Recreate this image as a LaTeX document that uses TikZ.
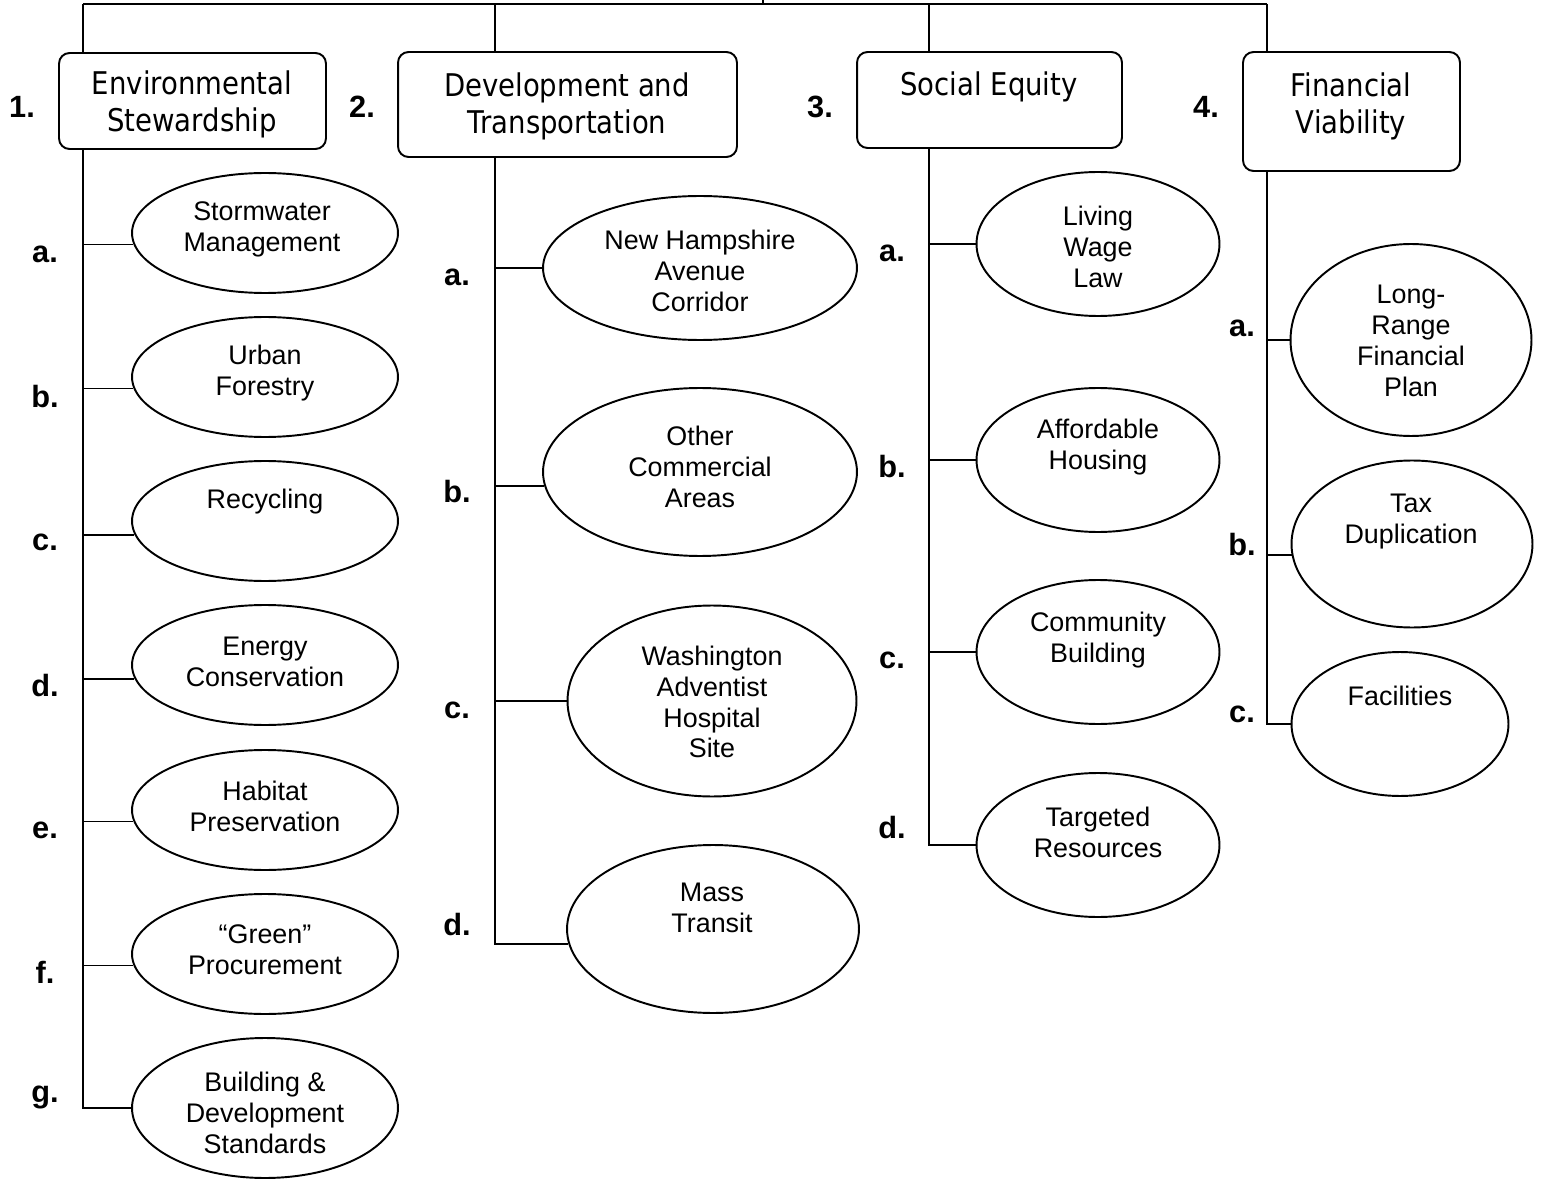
\documentclass[tikz,border=0pt]{standalone}
\usepackage{fontspec}
\setmainfont{Liberation Sans}
\newfontfamily\goalfont[FakeStretch=0.88]{DejaVu Sans}
\usetikzlibrary{shapes.geometric}

\tikzset{
  link/.style={line width=1.1pt},
  goal/.style={draw,line width=1.1pt,rounded corners=6pt,fill=white,inner sep=0pt},
  goaltext/.style={font=\goalfont\fontsize{17.8}{21}\selectfont,align=center,inner sep=0pt},
  item/.style={ellipse,draw,line width=1.1pt,inner sep=0pt},
  itemtext/.style={font=\fontsize{15.3}{17.6}\selectfont,align=center,inner sep=0pt},
  tag/.style={font=\bfseries\fontsize{17.5}{20}\selectfont,inner sep=0pt},
}

\begin{document}
\begin{tikzpicture}[x=0.02cm,y=-0.02cm]
  \useasboundingbox (0,0) rectangle (1546,1179);

  % 1. environmental stewardship
  \node[item,minimum width=5.32cm,minimum height=2.4cm] (es-a) at (265,233) {};
  \node[item,minimum width=5.32cm,minimum height=2.4cm] (es-b) at (265,377) {};
  \node[item,minimum width=5.32cm,minimum height=2.4cm] (es-c) at (265,521) {};
  \node[item,minimum width=5.32cm,minimum height=2.4cm] (es-d) at (265,665) {};
  \node[item,minimum width=5.32cm,minimum height=2.4cm] (es-e) at (265,810) {};
  \node[item,minimum width=5.32cm,minimum height=2.4cm] (es-f) at (265,954) {};
  \node[item,minimum width=5.32cm,minimum height=2.8cm] (es-g) at (265,1108) {};

  % 2. development and transportation
  \node[item,minimum width=6.28cm,minimum height=2.88cm] (dt-a) at (700,268) {};
  \node[item,minimum width=6.28cm,minimum height=3.36cm] (dt-b) at (700,472) {};
  \node[item,minimum width=5.78cm,minimum height=3.82cm] (dt-c) at (712,701) {};
  \node[item,minimum width=5.84cm,minimum height=3.36cm] (dt-d) at (713,929) {};

  % 3. social equity
  \node[item,minimum width=4.86cm,minimum height=2.88cm] (se-a) at (1098,244) {};
  \node[item,minimum width=4.86cm,minimum height=2.88cm] (se-b) at (1098,460) {};
  \node[item,minimum width=4.86cm,minimum height=2.88cm] (se-c) at (1098,652) {};
  \node[item,minimum width=4.86cm,minimum height=2.88cm] (se-d) at (1098,845) {};

  % 4. financial viability
  \node[item,minimum width=4.82cm,minimum height=3.84cm] (fv-a) at (1411,340) {};
  \node[item,minimum width=4.82cm,minimum height=3.34cm] (fv-b) at (1412,544) {};
  \node[item,minimum width=4.34cm,minimum height=2.88cm] (fv-c) at (1400,724) {};

  % tree lines
  \coordinate (hub) at (763,4);
  \coordinate (hubtop) at (763,0);
  \coordinate (c1) at (83,4);
  \coordinate (c2) at (495,4);
  \coordinate (c3) at (929,4);
  \coordinate (c4) at (1267,4);
  \draw[link] (c1) -- (c4) (hub) -- (hubtop);
  \draw[link] (c1) |- (es-g.west);
  \draw[link] (c1 |- es-a.185) -- (es-a.185) (c1 |- es-b.185) -- (es-b.185)
    (c1 |- es-c.186) -- (es-c.186) (c1 |- es-d.186) -- (es-d.186)
    (c1 |- es-e.185) -- (es-e.185) (c1 |- es-f.185) -- (es-f.185);
  \draw[link] (c2) |- (dt-d.186);
  \draw[link] (c2 |- dt-a.west) -- (dt-a.west) (c2 |- dt-b.185) -- (dt-b.185)
    (c2 |- dt-c.west) -- (dt-c.west);
  \draw[link] (c3) |- (se-d.west);
  \draw[link] (c3 |- se-a.west) -- (se-a.west) (c3 |- se-b.west) -- (se-b.west)
    (c3 |- se-c.west) -- (se-c.west);
  \draw[link] (c4) |- (fv-c.west);
  \draw[link] (c4 |- fv-a.west) -- (fv-a.west) (c4 |- fv-b.185) -- (fv-b.185);

  % goal boxes
  \node[goal,minimum width=5.34cm,minimum height=1.92cm] (es) at (192.5,101) {};
  \node[goal,minimum width=6.78cm,minimum height=2.1cm] (dt) at (567.5,104.5) {};
  \node[goal,minimum width=5.3cm,minimum height=1.92cm] (se) at (989.5,100) {};
  \node[goal,minimum width=4.34cm,minimum height=2.38cm] (fv) at (1351.5,111.5) {};
  \node[goaltext] (es-txt) at (192,104) {Environmental\\Stewardship};
  \node[goaltext] (dt-txt) at (567,106) {Development and\\Transportation};
  \node[goaltext] (se-txt) at (989,87) {Social Equity};
  \node[goaltext] (fv-txt) at (1351,106) {Financial\\Viability};
  \node[tag] (es-num) at (22,107) {1.};
  \node[tag] (dt-num) at (362,107) {2.};
  \node[tag] (se-num) at (820,107) {3.};
  \node[tag] (fv-num) at (1206,107) {4.};

  % item texts
  \node[itemtext] (es-a-txt) at (262,229) {Stormwater\\Management};
  \node[itemtext] (es-b-txt) at (265,373) {Urban\\Forestry};
  \node[itemtext] (es-c-txt) at (265,502) {Recycling};
  \node[itemtext] (es-d-txt) at (265,662) {Energy\\Conservation};
  \node[itemtext] (es-e-txt) at (265,806) {Habitat\\Preservation};
  \node[itemtext] (es-f-txt) at (265,950) {“Green”\\Procurement};
  \node[itemtext] (es-g-txt) at (265,1113) {Building \&\\Development\\Standards};
  \node[itemtext] (dt-a-txt) at (700,271) {New Hampshire\\Avenue\\Corridor};
  \node[itemtext] (dt-b-txt) at (700,467) {Other\\Commercial\\Areas};
  \node[itemtext] (dt-c-txt) at (712,702) {Washington\\Adventist\\Hospital\\Site};
  \node[itemtext] (dt-d-txt) at (712,908) {Mass\\Transit};
  \node[itemtext] (se-a-txt) at (1098,247) {Living\\Wage\\Law};
  \node[itemtext] (se-b-txt) at (1098,447) {Affordable\\Housing};
  \node[itemtext] (se-c-txt) at (1098,640) {Community\\Building};
  \node[itemtext] (se-d-txt) at (1098,832) {Targeted\\Resources};
  \node[itemtext] (fv-a-txt) at (1411,341) {Long-\\Range\\Financial\\Plan};
  \node[itemtext] (fv-b-txt) at (1411,522) {Tax\\Duplication};
  \node[itemtext] (fv-c-txt) at (1400,696) {Facilities};

  % letters
  \node[tag] (es-a-tag) at (45,254) {a.};
  \node[tag] (es-b-tag) at (45,397) {b.};
  \node[tag] (es-c-tag) at (45,542) {c.};
  \node[tag] (es-d-tag) at (45,686) {d.};
  \node[tag] (es-e-tag) at (45,830) {e.};
  \node[tag] (es-f-tag) at (45,972) {f.};
  \node[tag] (es-g-tag) at (45,1097) {g.};
  \node[tag] (dt-a-tag) at (457,277) {a.};
  \node[tag] (dt-b-tag) at (457,492) {b.};
  \node[tag] (dt-c-tag) at (457,710) {c.};
  \node[tag] (dt-d-tag) at (457,925) {d.};
  \node[tag] (se-a-tag) at (892,253) {a.};
  \node[tag] (se-b-tag) at (892,467) {b.};
  \node[tag] (se-c-tag) at (892,660) {c.};
  \node[tag] (se-d-tag) at (892,828) {d.};
  \node[tag] (fv-a-tag) at (1242,328) {a.};
  \node[tag] (fv-b-tag) at (1242,545) {b.};
  \node[tag] (fv-c-tag) at (1242,714) {c.};
\end{tikzpicture}
\end{document}
